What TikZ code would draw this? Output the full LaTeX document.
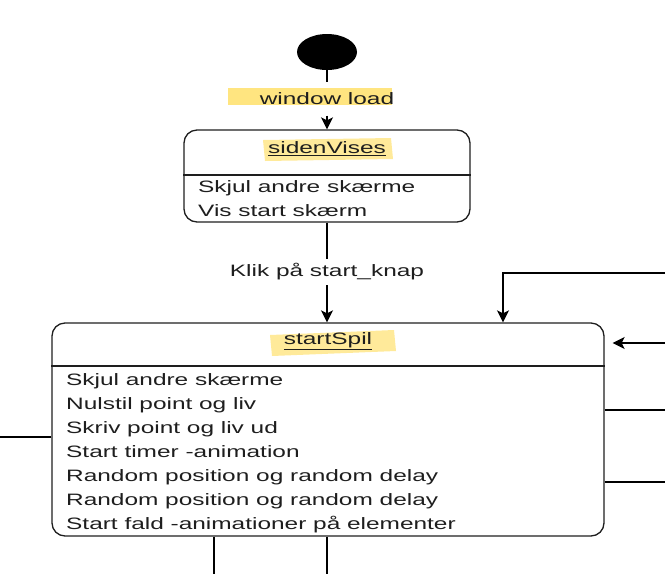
\documentclass[tikz,border=0pt]{standalone}
\usepackage{fontspec}
\setmainfont{Liberation Sans}[FakeStretch=1.48]
\usetikzlibrary{arrows.meta,shapes.geometric,positioning}

\definecolor{hlyellow}{RGB}{255,229,128}
\definecolor{inkgray}{RGB}{30,30,30}

\tikzset{
  every node/.style={font=\fontsize{16.5}{18}\selectfont, text=inkgray},
  initstate/.style={ellipse, fill=black, minimum width=60pt, minimum height=36pt, inner sep=0pt},
  statebox/.style={draw=inkgray, line width=1.3pt, rounded corners=13pt},
  statetitle/.style={inner sep=0pt},
  stateitem/.style={anchor=west, inner sep=0pt, text height=12pt, text depth=2pt},
  translabel/.style={inner sep=0pt, minimum height=#1},
  trans/.style={draw=black, line width=1.4pt, -{Stealth[length=12pt, width=12pt, inset=3pt]}},
  plainline/.style={draw=black, line width=1.4pt},
}

\begin{document}
\begin{tikzpicture}[x=1pt, y=-1pt]
  \useasboundingbox (0,0) rectangle (665,574);

  % highlighter marks
  \fill[hlyellow] (228,88) rectangle (392,105);
  \fill[hlyellow!80] (263,140) -- (391,138) -- (393,159) -- (265,161) -- cycle;
  \fill[hlyellow!80] (270,335) -- (394,330) -- (396,351) -- (272,356) -- cycle;

  % states
  \node[initstate] (start) at (327,52) {};
  \node[statebox, minimum width=286pt, minimum height=92pt] (siden) at (327,176) {};
  \node[statebox, minimum width=552pt, minimum height=213pt] (spil) at (328,429.5) {};

  \draw[inkgray, line width=1.3pt] (siden.west |- 0,175) -- (siden.east |- 0,175);
  \draw[inkgray, line width=1.3pt] (spil.west |- 0,366) -- (spil.east |- 0,366);

  \node[statetitle] (sidentitle) at (327,149) {\underline{sidenVises}};
  \node[stateitem] (s1) at (198,187) {Skjul andre skærme};
  \node[stateitem] (s2) at (198,211) {Vis start skærm};

  \node[statetitle] (spiltitle) at (328,341) {\underline{startSpil}};
  \node[stateitem] (sp1) at (66,380) {Skjul andre skærme};
  \node[stateitem] (sp2) at (66,404) {Nulstil point og liv};
  \node[stateitem] (sp3) at (66,428) {Skriv point og liv ud};
  \node[stateitem] (sp4) at (66,452) {Start timer -animation};
  \node[stateitem] (sp5) at (66,476) {Random position og random delay};
  \node[stateitem] (sp6) at (66,500) {Random position og random delay};
  \node[stateitem] (sp7) at (66,524) {Start fald -animationer på elementer};

  % transitions
  \node[translabel=33pt] (load) at (327,99) {window load};
  \draw[plainline] (start) -- (load.north);
  \draw[trans] (load.south) -- (siden.north);

  \node[translabel=26pt] (klik) at (327,272) {Klik på start\_knap};
  \draw[plainline] (siden.south) -- (klik.north);
  \draw[trans] (klik.south) -- (siden.south |- spil.north);

  % connectors leaving the picture
  \coordinate (loopin) at (665,273);
  \coordinate (backin) at (665,343);
  \coordinate (out1) at (665,410);
  \coordinate (out2) at (665,482);
  \coordinate (outl) at (0,437);
  \coordinate (down1) at (214,574);
  \coordinate (down2) at (327,574);

  \draw[trans] (loopin) -| (spil.north -| 503,0);
  \draw[trans, shorten >=8pt] (backin) -- (spil.east |- backin);
  \draw[plainline] (spil.east |- out1) -- (out1);
  \draw[plainline] (spil.east |- out2) -- (out2);
  \draw[plainline] (spil.west |- outl) -- (outl);
  \draw[plainline] (spil.south -| down1) -- (down1);
  \draw[plainline] (spil.south -| down2) -- (down2);
\end{tikzpicture}
\end{document}
